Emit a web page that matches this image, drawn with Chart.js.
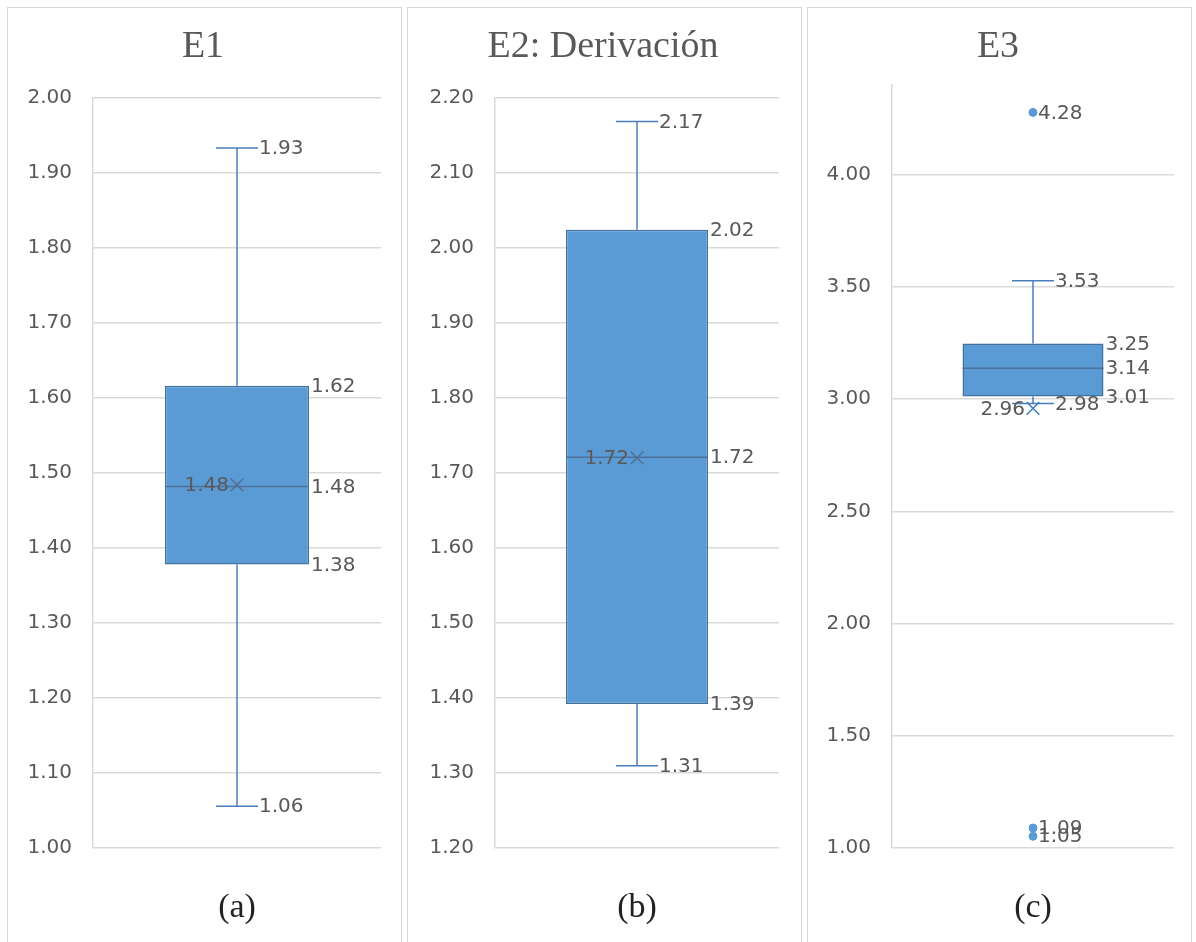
<!DOCTYPE html>
<html>
<head>
<meta charset="utf-8">
<script src="https://cdn.jsdelivr.net/npm/chart.js@4.4.1/dist/chart.umd.min.js"></script>
<style>
  body { margin: 0; background: #fff; width: 1196px; height: 942px; position: relative; overflow: hidden; }
  .panel { position: absolute; top: 7px; height: 940px; border: 1.5px solid #d9d9d9; border-bottom: none; box-sizing: border-box; }
  .panel canvas { position: absolute; left: 0; top: 0; }
</style>
</head>
<body>
<div class="panel" id="p0" style="left:7px;width:395px"><canvas id="c0"></canvas></div>
<div class="panel" id="p1" style="left:407px;width:395px"><canvas id="c1"></canvas></div>
<div class="panel" id="p2" style="left:807px;width:385px"><canvas id="c2"></canvas></div>
<script>
// box plot values
const panelTitles = ['E1', 'E2: Derivación', 'E3'];
const panelTags = ['(a)', '(b)', '(c)'];
const minVals = [1.056, 1.31, 2.98];
const q1Vals = [1.378, 1.392, 3.011];
const medianVals = [1.482, 1.721, 3.137];
const q3Vals = [1.616, 2.024, 3.247];
const maxVals = [1.933, 2.168, 3.527];
const meanVals = [1.484, 1.72, 2.958];
const outlierVals = [[], [], [4.276, 1.09, 1.053]];
// axes
const axisMin = [1.0, 1.2, 1.0];
const axisMax = [2.0, 2.2, 4.4];
const axisStep = [0.1, 0.1, 0.5];

const boxFill = '#5b9bd5';
const boxLine = '#41719c';
const whiskerColor = '#4a7ebb';
const textColor = '#595959';
const gridColor = '#d9d9d9';
const labelFont = '"DejaVu Sans", Verdana, sans-serif';
const serifFont = '"Liberation Serif", "Times New Roman", serif';

// data labels next to the marks
const boxLabels = {
  id: 'boxLabels',
  afterDatasetsDraw(chart, args, opts) {
    const ctx = chart.ctx;
    const xs = chart.scales.x, ys = chart.scales.y;
    const cx = xs.getPixelForValue(0);
    const bar = chart.getDatasetMeta(0).data[0];
    const half = bar ? bar.width / 2 : 72;
    ctx.save();
    ctx.font = '20px ' + labelFont;
    ctx.fillStyle = textColor;
    ctx.textBaseline = 'middle';
    opts.items.forEach(it => {
      const y = ys.getPixelForValue(it.value);
      let x = cx, align = 'left';
      if (it.kind === 'cap') x = cx + 22;
      else if (it.kind === 'box') x = cx + half + 2;
      else if (it.kind === 'mean') { x = cx - 8; align = 'right'; }
      else if (it.kind === 'point') x = cx + 5;
      ctx.textAlign = align;
      ctx.fillText(it.value.toFixed(2), x, y + 1);
    });
    ctx.restore();
  }
};

const sizes = [
  { w: 392, left: 17, axisW: 68, right: 19, titleBottom: 28 },
  { w: 392, left: 19, axisW: 68, right: 21, titleBottom: 28 },
  { w: 382, left: 14, axisW: 70, right: 16, titleBottom: 15 }
];

panelTitles.forEach((title, i) => {
  const canvas = document.getElementById('c' + i);
  canvas.width = sizes[i].w;
  canvas.height = 934;
  canvas.style.width = sizes[i].w + 'px';
  canvas.style.height = '934px';
  const lbl = title;
  const items = [
    { value: maxVals[i], kind: 'cap' },
    { value: minVals[i], kind: 'cap' },
    { value: q3Vals[i], kind: 'box' },
    { value: medianVals[i], kind: 'box' },
    { value: q1Vals[i], kind: 'box' },
    { value: meanVals[i], kind: 'mean' }
  ].concat(outlierVals[i].map(v => ({ value: v, kind: 'point' })));

  new Chart(canvas, {
    type: 'bar',
    data: {
      labels: [lbl],
      datasets: [
        {
          data: [[q1Vals[i], q3Vals[i]]],
          backgroundColor: boxFill,
          borderColor: boxLine,
          borderWidth: 1.5,
          borderSkipped: false,
          barPercentage: 1,
          categoryPercentage: 0.5,
          order: 5
        },
        {
          type: 'line',
          data: [{ x: lbl, y: q3Vals[i] }, { x: lbl, y: maxVals[i] }],
          borderColor: whiskerColor, borderWidth: 1.5, pointRadius: 0, order: 6
        },
        {
          type: 'line',
          data: [{ x: lbl, y: minVals[i] }, { x: lbl, y: q1Vals[i] }],
          borderColor: whiskerColor, borderWidth: 1.5, pointRadius: 0, order: 6
        },
        {
          type: 'line', showLine: false,
          data: [{ x: lbl, y: maxVals[i] }, { x: lbl, y: minVals[i] }],
          pointStyle: 'line', pointRadius: 21, pointBorderColor: whiskerColor, pointBorderWidth: 1.5, order: 4
        },
        {
          type: 'line', showLine: false,
          data: [{ x: lbl, y: medianVals[i] }],
          pointStyle: 'line',
          pointRadius: ctx => { const b = ctx.chart.getDatasetMeta(0).data[0]; return b && b.width ? b.width / 2 : 72; },
          pointBorderColor: '#4d7198', pointBorderWidth: 1.5, order: 3
        },
        {
          type: 'line', showLine: false,
          data: [{ x: lbl, y: meanVals[i] }],
          pointStyle: 'crossRot', pointRadius: 9, pointBorderColor: i === 2 ? '#3a7dc0' : '#526f92', pointBorderWidth: 1.5, order: 2
        },
        {
          type: 'line', showLine: false,
          data: outlierVals[i].map(v => ({ x: lbl, y: v })),
          pointStyle: 'circle', pointRadius: 4, pointBackgroundColor: boxFill, pointBorderColor: boxFill, order: 1
        }
      ]
    },
    options: {
      responsive: false,
      animation: false,
      layout: { autoPadding: false, padding: { left: sizes[i].left, right: sizes[i].right, top: 0, bottom: 0 } },
      scales: {
        x: {
          offset: true,
          grid: { display: false, drawTicks: false },
          border: { display: false },
          ticks: { display: false },
          title: {
            display: true, text: panelTags[i], color: '#222',
            font: { family: serifFont, size: 34, weight: 'normal' },
            padding: { top: 39, bottom: 14 }
          }
        },
        y: {
          min: axisMin[i], max: axisMax[i], bounds: 'data',
          afterFit: s => { s.width = sizes[i].axisW; },
          afterBuildTicks: s => {
            s.ticks = s.ticks.filter(t => {
              const k = (t.value - axisMin[i]) / axisStep[i];
              return Math.abs(k - Math.round(k)) < 1e-6;
            });
          },
          grid: { color: gridColor, lineWidth: 1.5, drawTicks: false },
          border: { display: true, color: gridColor, width: 1.5 },
          ticks: {
            stepSize: axisStep[i], includeBounds: false, padding: 21,
            color: textColor, font: { family: labelFont, size: 20 },
            callback: v => Number(v).toFixed(2)
          }
        }
      },
      plugins: {
        legend: { display: false },
        tooltip: { enabled: false },
        title: {
          display: true, text: title, color: textColor,
          font: { family: serifFont, size: 38, weight: 'normal' },
          padding: { top: 16, bottom: sizes[i].titleBottom }
        },
        boxLabels: { items: items }
      }
    },
    plugins: [boxLabels]
  });
});
</script>
</body>
</html>
